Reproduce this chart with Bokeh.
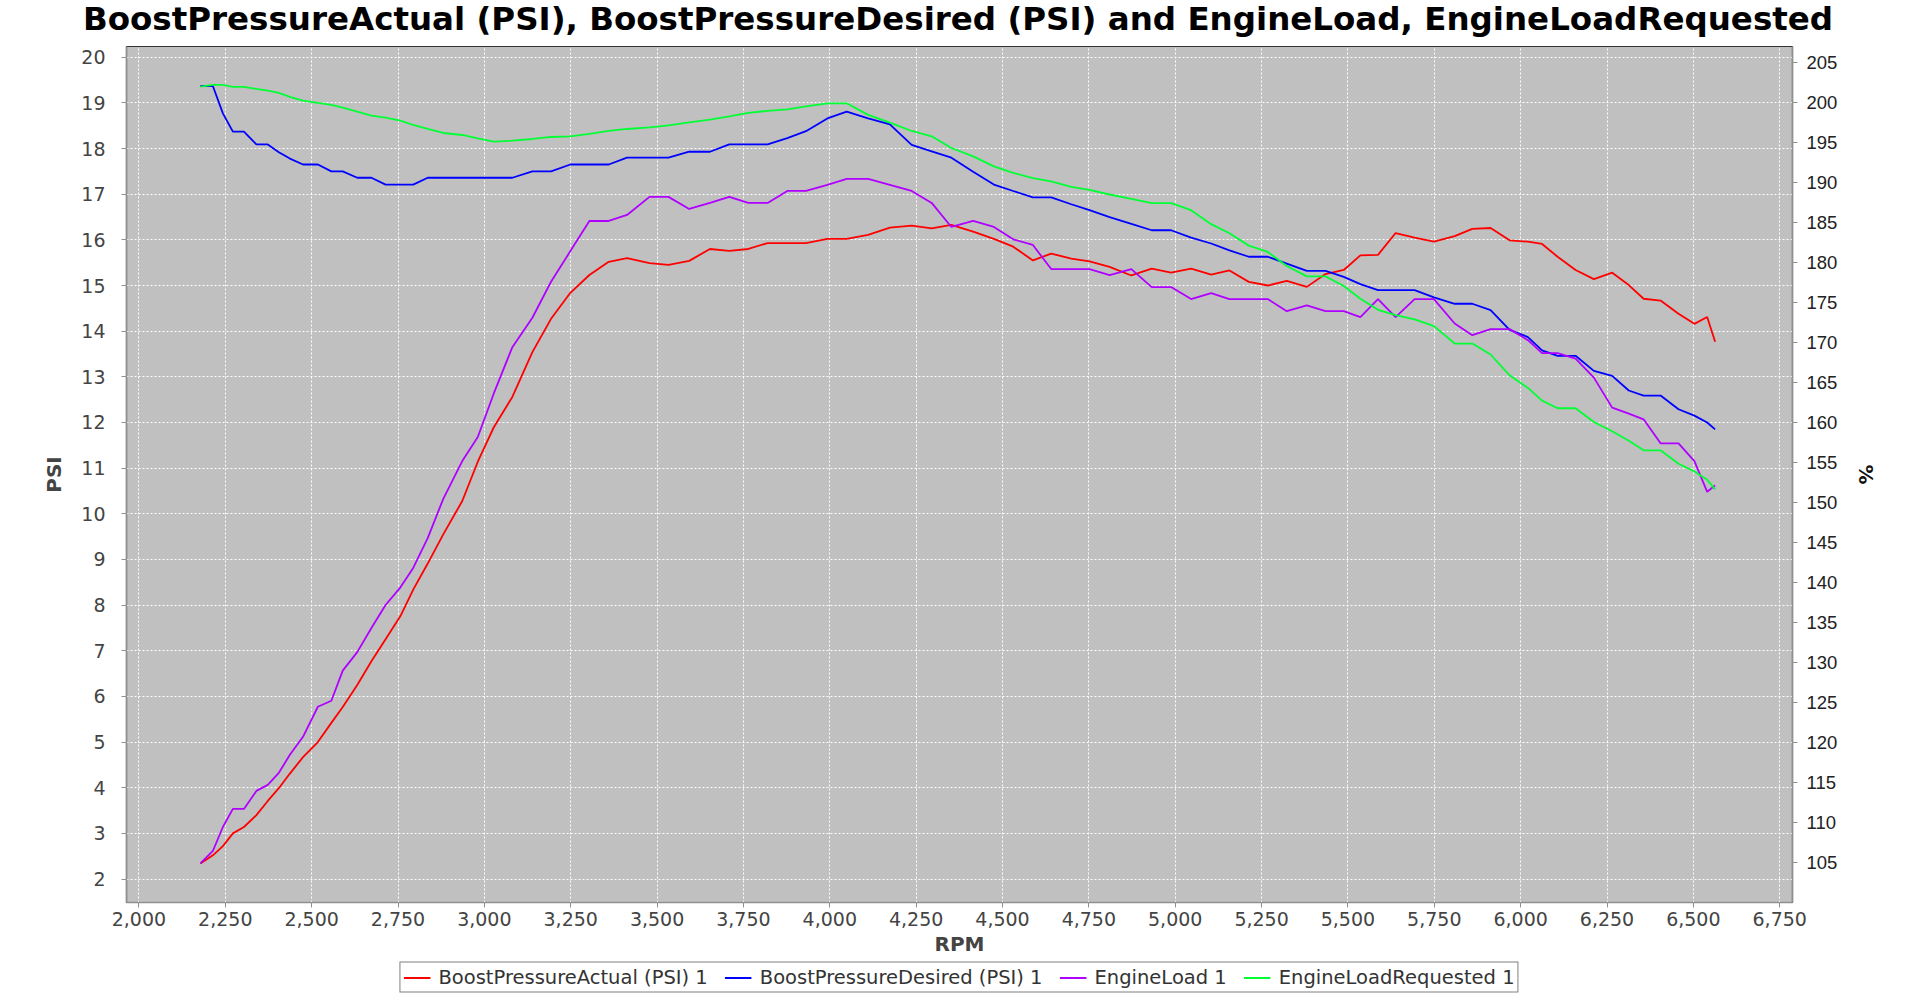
from bokeh.plotting import figure
from bokeh.layouts import column
from bokeh.models import (ColumnDataSource, Range1d, LinearAxis, FixedTicker,
                          NumeralTickFormatter, Legend, LegendItem, Label)
from bokeh.embed import file_html
from bokeh.resources import INLINE

# ---- data ----
rpm = [2178, 2214, 2243, 2272, 2304, 2340, 2373, 2405, 2437, 2475,
       2518, 2557, 2590, 2632, 2673, 2714, 2757, 2794, 2836, 2881,
       2936, 2981, 3027, 3081, 3139, 3193, 3249, 3304, 3360, 3413,
       3478, 3533, 3593, 3653, 3709, 3764, 3820, 3877, 3931, 3993,
       4049, 4111, 4174, 4237, 4295, 4352, 4415, 4475, 4531, 4588,
       4641, 4699, 4752, 4810, 4873, 4932, 4988, 5046, 5104, 5157,
       5213, 5268, 5323, 5381, 5435, 5488, 5536, 5587, 5638, 5693,
       5749, 5809, 5860, 5913, 5968, 6021, 6062, 6107, 6159, 6212,
       6265, 6313, 6356, 6405, 6457, 6503, 6540, 6563]

boost_actual = [2.34, 2.52, 2.72, 3.00, 3.14, 3.40, 3.71, 3.99, 4.31, 4.67,
                5.00, 5.42, 5.77, 6.25, 6.77, 7.25, 7.76, 8.34, 8.91, 9.55,
                10.28, 11.14, 11.89, 12.56, 13.54, 14.27, 14.84, 15.23, 15.52, 15.60,
                15.49, 15.45, 15.54, 15.80, 15.76, 15.80, 15.93, 15.93, 15.93, 16.02,
                16.02, 16.11, 16.27, 16.31, 16.25, 16.33, 16.18, 16.02, 15.85, 15.55,
                15.70, 15.59, 15.53, 15.41, 15.22, 15.37, 15.28, 15.37, 15.24, 15.33,
                15.08, 15.00, 15.10, 14.97, 15.25, 15.34, 15.66, 15.67, 16.15, 16.05,
                15.96, 16.08, 16.24, 16.26, 15.99, 15.96, 15.91, 15.63, 15.34, 15.14,
                15.28, 15.01, 14.71, 14.67, 14.38, 14.16, 14.31, 13.77]

boost_desired = [19.37, 19.37, 18.77, 18.37, 18.37, 18.09, 18.09, 17.92, 17.78, 17.65,
                 17.65, 17.50, 17.50, 17.36, 17.36, 17.21, 17.21, 17.21, 17.36, 17.36,
                 17.36, 17.36, 17.36, 17.36, 17.50, 17.50, 17.65, 17.65, 17.65, 17.80,
                 17.80, 17.80, 17.93, 17.93, 18.09, 18.09, 18.09, 18.23, 18.38, 18.66,
                 18.81, 18.66, 18.53, 18.08, 17.94, 17.80, 17.49, 17.21, 17.07, 16.93,
                 16.93, 16.78, 16.65, 16.50, 16.35, 16.21, 16.21, 16.05, 15.92, 15.77,
                 15.63, 15.63, 15.48, 15.32, 15.32, 15.19, 15.03, 14.90, 14.90, 14.90,
                 14.74, 14.60, 14.60, 14.46, 14.03, 13.87, 13.58, 13.46, 13.46, 13.13,
                 13.02, 12.70, 12.59, 12.59, 12.29, 12.15, 12.00, 11.85]

engine_load = [104.89, 106.44, 109.44, 111.70, 111.70, 113.95, 114.70, 116.21, 118.46, 120.71,
               124.47, 125.22, 128.98, 131.30, 134.31, 137.19, 139.40, 141.82, 145.54, 150.46,
               155.18, 158.19, 163.60, 169.42, 173.09, 177.59, 181.43, 185.19, 185.19, 185.94,
               188.20, 188.20, 186.69, 187.45, 188.20, 187.45, 187.45, 188.95, 188.95, 189.70,
               190.45, 190.45, 189.70, 188.95, 187.45, 184.44, 185.19, 184.44, 182.90, 182.19,
               179.18, 179.18, 179.18, 178.43, 179.18, 176.93, 176.93, 175.43, 176.18, 175.43,
               175.43, 175.43, 173.92, 174.63, 173.92, 173.92, 173.17, 175.43, 173.17, 175.43,
               175.43, 172.37, 170.92, 171.67, 171.67, 170.29, 168.67, 168.67, 167.99, 165.61,
               161.86, 161.10, 160.40, 157.40, 157.40, 155.18, 151.34, 152.14]

engine_load_req = [201.99, 202.21, 202.21, 201.95, 201.95, 201.70, 201.49, 201.20, 200.70, 200.24,
                   199.95, 199.70, 199.36, 198.86, 198.36, 198.11, 197.73, 197.19, 196.69, 196.19,
                   195.94, 195.51, 195.10, 195.23, 195.44, 195.69, 195.77, 196.07, 196.44, 196.69,
                   196.89, 197.14, 197.52, 197.86, 198.27, 198.70, 198.95, 199.15, 199.52, 199.90,
                   199.90, 198.45, 197.48, 196.44, 195.77, 194.31, 193.26, 192.01, 191.20, 190.55,
                   190.13, 189.46, 189.09, 188.50, 187.96, 187.42, 187.42, 186.54, 184.79, 183.66,
                   182.11, 181.32, 179.56, 178.27, 178.27, 177.06, 175.46, 174.08, 173.42, 172.88,
                   172.04, 169.87, 169.87, 168.50, 165.90, 164.32, 162.73, 161.78, 161.78, 160.06,
                   158.90, 157.72, 156.52, 156.52, 154.84, 153.89, 152.84, 151.64]

x_ticks = list(range(2000, 6751, 250))
psi_ticks = list(range(2, 21))
pct_ticks = list(range(105, 206, 5))

series_labels = ["BoostPressureActual (PSI) 1", "BoostPressureDesired (PSI) 1",
                 "EngineLoad 1", "EngineLoadRequested 1"]
series_colors = ["#FF0000", "#0000FF", "#B000FF", "#00FF33"]

title_text = ("BoostPressureActual (PSI), BoostPressureDesired (PSI) and "
              "EngineLoad, EngineLoadRequested")

src = ColumnDataSource(dict(rpm=rpm, ba=boost_actual, bd=boost_desired,
                            el=engine_load, elr=engine_load_req))

# ---- title strip (its frame spans the full width, not aligned to the chart) ----
tf = figure(width=1915, height=40, output_backend="svg", toolbar_location=None,
            x_range=Range1d(0, 1), y_range=Range1d(0, 1), min_border=0)
tf.frame_align = False
tf.axis.visible = False
tf.grid.visible = False
tf.outline_line_color = None
tf.background_fill_color = "white"
tf.border_fill_color = "white"
tf.add_layout(Label(x=0.5, y=0.55, text=title_text, text_align="center",
                    text_baseline="middle", text_font="DejaVu Sans",
                    text_font_style="bold", text_font_size="32.5px",
                    text_color="black"))

# ---- main chart ----
p = figure(width=1915, height=918, output_backend="svg", toolbar_location=None,
           x_range=Range1d(1964, 6787), y_range=Range1d(1.486, 20.235),
           min_border_left=126, min_border_right=123, min_border_top=6,
           min_border_bottom=0)
p.extra_y_ranges = {"pct": Range1d(100.0, 207.0)}

p.background_fill_color = "#C0C0C0"
p.border_fill_color = "white"
p.outline_line_color = "#333333"
p.outline_line_width = 1.2

xa = p.xaxis[0]
xa.ticker = FixedTicker(ticks=x_ticks)
xa.formatter = NumeralTickFormatter(format="0,0")
xa.axis_label = "RPM"
ya = p.yaxis[0]
ya.ticker = FixedTicker(ticks=psi_ticks)
ya.axis_label = "PSI"

ra = LinearAxis(y_range_name="pct", axis_label="%",
                ticker=FixedTicker(ticks=pct_ticks))
p.add_layout(ra, "right")

for ax in (xa, ya, ra):
    ax.axis_line_color = "#909090"
    ax.axis_line_width = 1.5
    ax.major_tick_line_color = "#909090"
    ax.major_tick_out = 5
    ax.major_tick_in = 0
    ax.minor_tick_line_color = None
    ax.major_label_text_font = "DejaVu Sans"
    ax.major_label_text_font_size = "19px"
    ax.major_label_text_color = "#444444"
    ax.axis_label_text_font = "DejaVu Sans"
    ax.axis_label_text_font_style = "bold"
    ax.axis_label_text_font_size = "20px"
    ax.axis_label_text_color = "#444444"

ra.major_label_text_font = "Liberation Sans"
ra.major_label_text_font_size = "18.5px"
ra.major_label_text_color = "#222222"
ra.axis_label_text_color = "#111111"
ra.major_label_standoff = 9
ra.axis_label_standoff = 14
xa.major_label_standoff = 4
xa.axis_label_standoff = 3
ya.major_label_standoff = 16
ya.axis_label_standoff = 12

for g in (p.xgrid[0], p.ygrid[0]):
    g.grid_line_color = "white"
    g.grid_line_dash = "2 2"
    g.grid_line_width = 1

p.line("rpm", "ba", source=src, color=series_colors[0], line_width=1.8)
p.line("rpm", "bd", source=src, color=series_colors[1], line_width=1.8)
p.line("rpm", "el", source=src, color=series_colors[2], line_width=1.8,
       y_range_name="pct")
p.line("rpm", "elr", source=src, color=series_colors[3], line_width=1.8,
       y_range_name="pct")

# ---- legend strip below the chart (key glyphs only, no data drawn) ----
lg = figure(width=1915, height=38, output_backend="svg", toolbar_location=None,
            x_range=Range1d(0, 1), y_range=Range1d(0, 1), min_border=0)
lg.axis.visible = False
lg.grid.visible = False
lg.outline_line_color = None
lg.background_fill_color = "white"
lg.border_fill_color = "white"
nan = float("nan")
keys = [lg.line(x=[nan], y=[nan], color=c, line_width=1.8) for c in series_colors]

legend = Legend(items=[LegendItem(label=lab, renderers=[r])
                       for lab, r in zip(series_labels, keys)],
                orientation="horizontal", location="center")
legend.label_text_font = "DejaVu Sans"
legend.label_text_font_size = "19.5px"
legend.label_text_color = "#333333"
legend.glyph_width = 27
legend.glyph_height = 18
legend.label_standoff = 8
legend.spacing = 17
legend.padding = 3
legend.margin = 0
legend.border_line_color = "black"
legend.border_line_width = 1.5
legend.background_fill_color = "white"
legend.label_height = 18
lg.add_layout(legend, "center")

layout = column(tf, p, lg, spacing=0)
open("out.html", "w").write(file_html(layout, INLINE))
